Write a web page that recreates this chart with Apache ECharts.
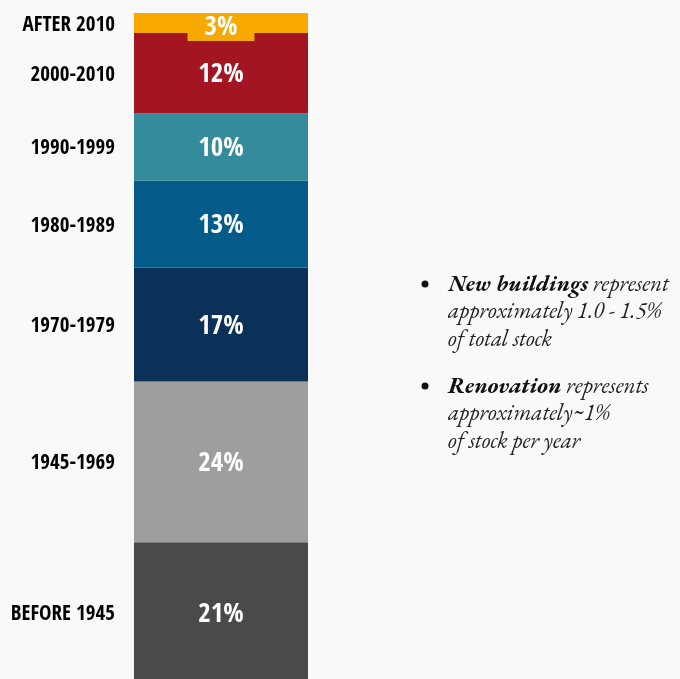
<!DOCTYPE html>
<html>
<head>
<meta charset="utf-8">
<script src="https://cdn.jsdelivr.net/npm/echarts@6/dist/echarts.min.js"></script>
<style>
  html, body { margin: 0; padding: 0; background: #f9f9f9; }
  #chart { width: 680px; height: 679px; }
</style>
</head>
<body>
<div id="chart"></div>
<script>
// Building stock by construction period, bottom to top of the stack
const periods = ['BEFORE 1945', '1945-1969', '1970-1979', '1980-1989', '1990-1999', '2000-2010', 'AFTER 2010'];
const shares = [21, 24, 17, 13, 10, 12, 3];
const colors = ['#4a4a4a', '#9d9e9d', '#0b3158', '#035b89', '#338b9c', '#a31621', '#f7a900'];

const notes = [
  { bold: 'New buildings', lines: [' represent', 'approximately 1.0 - 1.5%', 'of total stock'] },
  { bold: 'Renovation', lines: [' represents', 'approximately~1%', 'of stock per year'] }
];

const condensed = '"Open Sans Condensed", "Roboto Condensed", sans-serif';
const serif = '"EB Garamond", "Liberation Serif", serif';

// One stacked bar series per period
const barSeries = periods.map((name, i) => {
  const isTop = i === periods.length - 1;
  return {
    name: name,
    type: 'bar',
    stack: 'stock',
    barWidth: '100%',
    data: [shares[i]],
    itemStyle: { color: colors[i] },
    z: 2 + i,
    label: isTop ? {
      show: true,
      position: 'insideTop',
      distance: 0,
      formatter: '{c}%',
      color: '#ffffff',
      fontFamily: condensed,
      fontWeight: 'bold',
      fontSize: 27,
      lineHeight: 27,
      backgroundColor: colors[i],
      padding: [1, 17, 0, 17]
    } : {
      show: true,
      position: 'inside',
      offset: [0, 2],
      formatter: '{c}%',
      color: '#ffffff',
      fontFamily: condensed,
      fontWeight: 'bold',
      fontSize: 27
    }
  };
});

// Period names to the left of each segment, placed at the segment midpoints
let running = 0;
const mids = shares.map(v => { const m = running + v / 2; running += v; return m; });

const nameSeries = {
  type: 'scatter',
  symbolSize: 0,
  silent: true,
  z: 20,
  itemStyle: { opacity: 1 },
  data: periods.map((p, i) => ({ value: [0, mids[i]], name: p })),
  label: {
    show: true,
    position: 'left',
    distance: 106,
    offset: [0, 2],
    formatter: p => p.name,
    color: '#000000',
    fontFamily: condensed,
    fontWeight: 'bold',
    fontSize: 21
  }
};

// Bulleted notes on the right
const noteGraphics = [];
const noteTops = [273, 375];
notes.forEach((n, k) => {
  const top = noteTops[k];
  noteGraphics.push({
    type: 'circle',
    shape: { cx: 425, cy: top + 11, r: 3.5 },
    style: { fill: '#111111' }
  });
  noteGraphics.push({
    type: 'text',
    left: 448,
    top: top,
    style: {
      text: '{b|' + n.bold + '}{i|' + n.lines[0] + '}\n{i|' + n.lines[1] + '}\n{i|' + n.lines[2] + '}',
      rich: {
        b: { fontFamily: serif, fontStyle: 'italic', fontWeight: 'bold', fontSize: 23, lineHeight: 27.5, fill: '#111111' },
        i: { fontFamily: serif, fontStyle: 'italic', fontSize: 23, lineHeight: 27.5, fill: '#222222' }
      }
    }
  });
});

const chart = echarts.init(document.getElementById('chart'), null, { renderer: 'canvas' });
chart.setOption({
  backgroundColor: '#f9f9f9',
  animation: false,
  grid: { left: 134, width: 174, top: 13, height: 670, outerBoundsMode: 'none' },
  xAxis: { type: 'category', data: ['stock'], show: false },
  yAxis: { type: 'value', min: 0, max: 100, show: false },
  series: barSeries.concat([nameSeries]),
  graphic: noteGraphics
});
</script>
</body>
</html>
